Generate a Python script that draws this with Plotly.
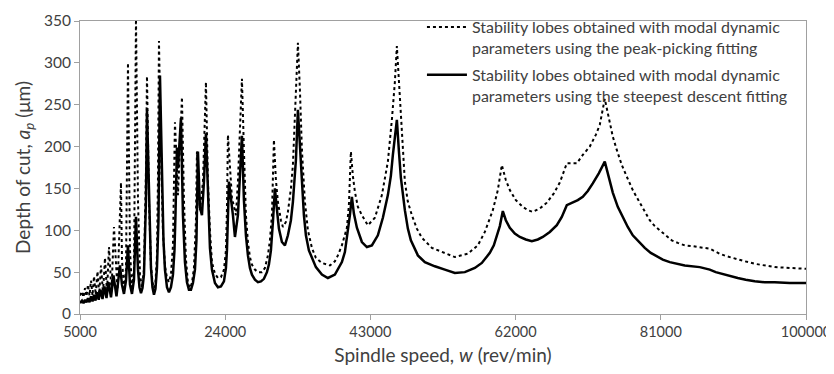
import plotly.graph_objects as go

# Spindle speed (rev/min) and depth of cut (um)
# Series 1: peak-picking fitting (dotted)
speed_peak = [5000, 5262, 5458, 5654, 5850, 6046, 6243, 6439, 6635, 6831, 7060, 7289, 7518, 7747, 8008, 8270,
              8532, 8793, 9120, 9447, 9905, 10363, 10494, 10755, 11017, 11148, 11278, 11540, 11802, 12063, 12194,
              12325, 12586, 12848, 13110, 13371, 13633, 13764, 14025, 14287, 14483, 14679, 14875, 15072, 15202,
              15333, 15595, 15856, 16118, 16380, 16641, 16903, 17164, 17295, 17426, 17818, 18080, 18342, 18603,
              18865, 19126, 19388, 19649, 19911, 20173, 20304, 20696, 21088, 21481, 21742, 22004, 22266, 22658,
              23050, 23443, 23835, 24097, 24228, 24358, 24882, 25405, 25666, 25928, 26190, 26451, 26713, 26974,
              27236, 27498, 27890, 28282, 28806, 29198, 29590, 29852, 30114, 30375, 30636, 30898, 31291, 31552,
              31945, 32206, 32598, 32860, 33253, 33514, 33776, 34038, 34430, 34822, 35346, 35869, 36654, 37700,
              38354, 38746, 39270, 39662, 39924, 40185, 40447, 40708, 40970, 41363, 41886, 42670, 43586, 44502,
              44894, 45286, 45810, 46202, 46464, 46856, 47117, 47510, 47902, 48426, 49080, 49734, 51042, 52742,
              54050, 55750, 57058, 57974, 58497, 59020, 59674, 60198, 60721, 61244, 62029, 62944, 63599, 64252,
              65168, 66084, 67000, 67784, 68307, 68700, 69353, 70008, 70792, 71708, 72493, 73016, 73670, 74193,
              74716, 75240, 75894, 76548, 77332, 78248, 78902, 79556, 80210, 80864, 81649, 82434, 83219, 84134,
              85180, 86096, 86750, 87404, 88058, 88712, 89628, 90674, 91982, 93290, 94598, 95906, 97868, 100000]
depth_peak = [22, 27, 20, 31, 21, 35, 22, 40, 22, 45, 23, 51, 24, 58, 25, 67,
              26, 80, 27, 104, 29, 157, 65, 31, 53, 160, 300, 76, 32, 53, 196,
              352, 136, 47, 32, 53, 172, 284, 136, 58, 38, 31, 38, 70, 160,
              326, 196, 98, 58, 43, 38, 47, 82, 136, 229, 142, 207, 259, 136,
              65, 37, 31, 37, 55, 112, 194, 124, 158, 277, 158, 100, 62, 48,
              43, 44, 53, 76, 124, 214, 139, 118, 158, 220, 281, 196, 118, 86,
              68, 59, 53, 50, 50, 55, 70, 88, 118, 208, 160, 134, 112, 104,
              110, 122, 150, 178, 256, 324, 268, 196, 134, 100, 79, 67, 61, 58,
              63, 70, 82, 94, 103, 130, 194, 165, 146, 128, 118, 106, 115, 142,
              160, 182, 232, 277, 320, 258, 210, 158, 134, 118, 102, 91, 79, 73,
              68, 72, 82, 98, 110, 124, 148, 178, 160, 148, 136, 128, 124, 122,
              126, 133, 144, 157, 170, 180, 180, 180, 190, 200, 214, 226, 257, 235,
              212, 196, 178, 164, 148, 133, 122, 112, 105, 100, 94, 88, 85, 82,
              81, 80, 79, 78, 75, 72, 69, 66, 63, 60, 58, 56, 55, 54]

# Series 2: steepest descent fitting (solid)
speed_sd = [5000, 5262, 5458, 5654, 5850, 6046, 6243, 6439, 6635, 6831, 7027, 7224, 7446, 7681, 7943, 8205,
            8466, 8728, 9055, 9382, 9774, 10232, 10494, 10755, 11017, 11278, 11540, 11802, 12063, 12325, 12586,
            12783, 12979, 13175, 13371, 13633, 13764, 14025, 14287, 14483, 14679, 14875, 15072, 15268, 15464,
            15726, 15922, 16118, 16380, 16641, 16903, 17164, 17360, 17491, 17688, 17818, 18080, 18211, 18472,
            18734, 18996, 19257, 19519, 19780, 20042, 20238, 20434, 20696, 20958, 21219, 21481, 21742, 22004,
            22266, 22658, 23050, 23443, 23835, 24097, 24228, 24358, 24489, 25012, 25274, 25666, 25928, 26190,
            26451, 26713, 26974, 27236, 27498, 27890, 28282, 28675, 29067, 29460, 29721, 29983, 30244, 30506,
            30767, 31029, 31422, 31814, 32206, 32598, 32860, 33253, 33514, 33776, 34038, 34299, 34561, 34953,
            35346, 35869, 36654, 37438, 38354, 39270, 39662, 40054, 40316, 40578, 40839, 41232, 41886, 42540,
            43194, 43978, 44632, 45286, 45678, 45940, 46202, 46464, 46725, 46987, 47510, 47902, 48295, 48818,
            49210, 50126, 51434, 52742, 54050, 55358, 56666, 57582, 58628, 59151, 59544, 59936, 60328, 60721,
            61244, 61898, 62552, 63337, 64122, 64907, 65560, 66476, 67392, 68046, 68700, 69484, 70139, 70792,
            71446, 72100, 72885, 73670, 74193, 74716, 75370, 76024, 76678, 77332, 78248, 78902, 79687, 80472,
            81257, 82172, 83088, 84134, 86096, 86620, 87404, 88189, 88974, 90020, 91066, 92112, 93290, 94598,
            95906, 97868, 100000]
depth_sd = [13, 16, 13, 17, 14, 19, 14, 21, 15, 23, 16, 26, 17, 29, 18, 33,
            19, 38, 20, 46, 21, 58, 35, 24, 40, 82, 35, 24, 41, 116, 53,
            32, 25, 31, 47, 136, 244, 136, 55, 32, 23, 30, 55, 112, 285,
            172, 88, 53, 32, 26, 32, 47, 76, 118, 199, 174, 214, 234, 118,
            62, 38, 29, 29, 37, 53, 88, 194, 127, 118, 158, 216, 139, 79,
            53, 37, 32, 33, 39, 55, 76, 110, 158, 118, 92, 118, 166, 213,
            136, 94, 70, 55, 47, 41, 38, 39, 42, 50, 59, 76, 110, 150,
            125, 102, 86, 82, 94, 112, 134, 184, 244, 208, 160, 118, 94, 76,
            67, 56, 47, 43, 47, 62, 74, 98, 118, 140, 120, 103, 86, 80,
            82, 94, 115, 142, 165, 190, 212, 232, 195, 163, 124, 102, 88, 77,
            70, 62, 57, 53, 49, 50, 55, 61, 73, 82, 93, 105, 123, 112,
            103, 96, 92, 89, 87, 89, 92, 98, 106, 116, 130, 133, 136, 140,
            147, 156, 168, 182, 163, 145, 128, 115, 104, 94, 85, 79, 73, 69,
            65, 62, 60, 58, 56, 55, 53, 50, 48, 45, 43, 41, 39, 38,
            38, 37, 37]

x_ticks = [5000, 24000, 43000, 62000, 81000, 100000]
y_ticks = [0, 50, 100, 150, 200, 250, 300, 350]

name_peak = "Stability lobes obtained with modal dynamic<br>parameters using the peak-picking fitting"
name_sd = "Stability lobes obtained with modal dynamic<br>parameters using the steepest descent fitting"

FONT = "Lato, 'Open Sans', sans-serif"
TXT = "#404040"
AX = "#a0a0a0"

fig = go.Figure()
fig.add_trace(go.Scatter(x=speed_peak, y=depth_peak, mode="lines", name=name_peak,
                         line=dict(color="black", width=2, dash="dot"), legendgroup="a"))
fig.add_trace(go.Scatter(x=speed_sd, y=depth_sd, mode="lines", name=name_sd,
                         line=dict(color="black", width=2.5), legendgroup="b"))

fig.update_layout(
    width=826, height=366,
    margin=dict(l=72, r=28, t=13, b=60, autoexpand=False),
    paper_bgcolor="white", plot_bgcolor="white",
    font=dict(family=FONT, color=TXT),
    showlegend=True,
    legend=dict(x=0.471, y=1.037, xanchor="left", yanchor="top", bgcolor="rgba(0,0,0,0)",
                font=dict(size=16, color=TXT, family=FONT), valign="top",
                itemwidth=40, tracegroupgap=3, traceorder="grouped"),
    xaxis=dict(range=[5000, 100000], tickvals=x_ticks, tickformat="d", automargin=False,
               ticklabeloverflow="allow",
               showline=True, linecolor=AX, linewidth=1, mirror=True,
               ticks="outside", ticklen=5, tickcolor=AX, showgrid=False, zeroline=False,
               tickfont=dict(size=14.5, color=TXT),
               title=dict(text="Spindle speed, <i>w</i> (rev/min)", font=dict(size=19, color=TXT), standoff=9)),
    yaxis=dict(range=[0, 350], tickvals=y_ticks, automargin=False,
               showline=True, linecolor=AX, linewidth=1, mirror=True,
               ticks="outside", ticklen=5, tickcolor=AX, showgrid=False, zeroline=False,
               tickfont=dict(size=15.5, color=TXT),
               title=dict(text="Depth of cut, <i>a<sub>p</sub></i> (μm)", font=dict(size=19, color=TXT), standoff=8)),
)

fig.write_html("out.html")
